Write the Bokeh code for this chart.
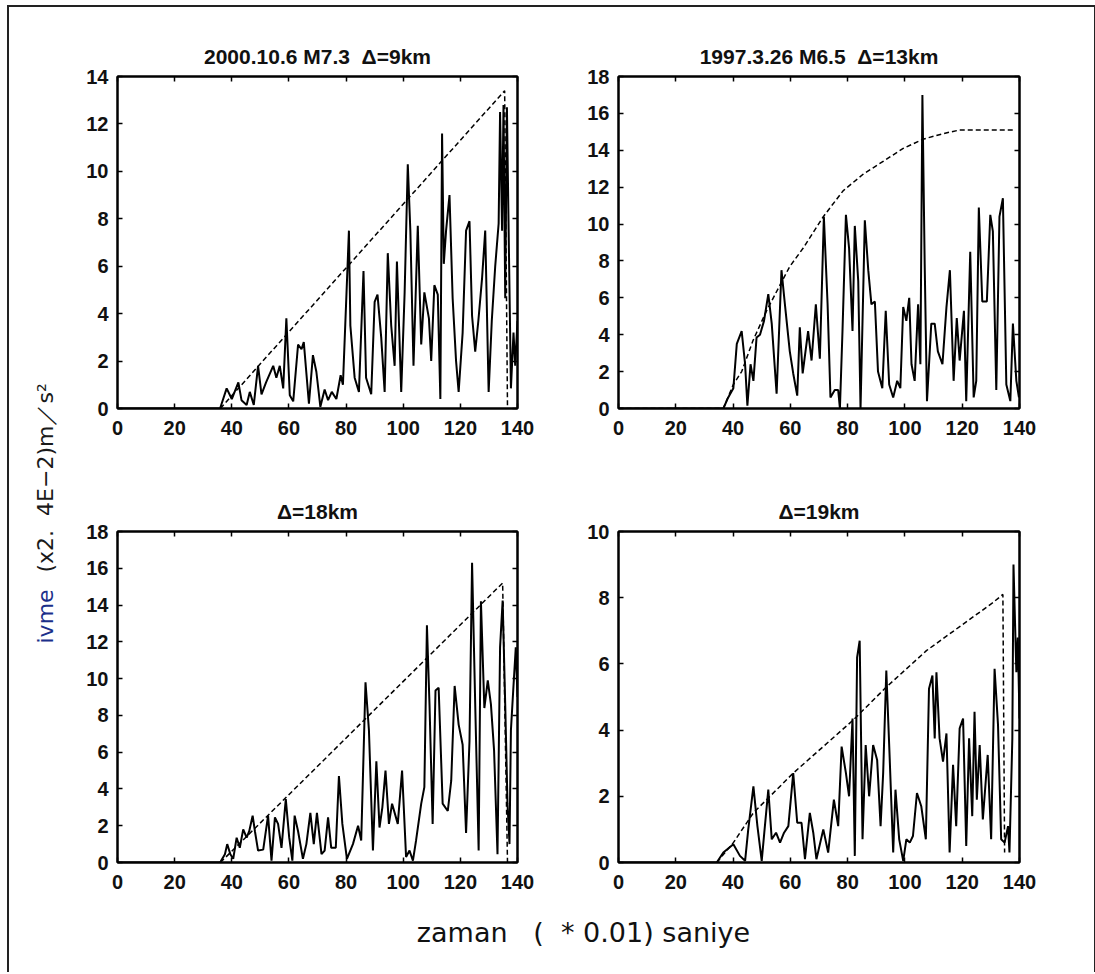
from bokeh.plotting import figure
from bokeh.models import Range1d, FixedTicker, LinearAxis, Label
from bokeh.layouts import row, column
from bokeh.embed import file_html
from bokeh.resources import INLINE

# ---------------- data ----------------
NB = "\u00a0"
titles = ["2000.10.6 M7.3" + NB + NB + "\u0394=9km", "1997.3.26 M6.5" + NB + NB + "\u0394=13km",
          "\u0394=18km", "\u0394=19km"]
x_ticks = [0, 20, 40, 60, 80, 100, 120, 140]
y_max = [14, 18, 18, 10]

tl_x = [0, 35.9, 38.2, 40, 42.3, 43.4, 45.2, 46.3, 47.7, 49.2,
        50.4, 52, 54.5, 55.6, 56.8, 58, 59.1, 60.3, 61.5, 63.2,
        64.4, 65.2, 67, 68.4, 69.6, 71, 72.5, 73.7, 75, 76.6,
        78.1, 78.9, 81, 81.5, 83, 84.5, 86.1, 87, 88.8, 90,
        91, 92.3, 93.5, 94.6, 95.8, 97, 97.8, 99.3, 100.5, 101.6,
        102.5, 103.6, 105.1, 106.3, 107.4, 109, 109.8, 110.9, 112.1, 113,
        113.6, 114.2, 115, 116.2, 117.3, 118.5, 119.4, 120.8, 122, 123.2,
        124.1, 125.2, 126.3, 127.6, 128.7, 129.9, 131, 132.2, 133.4, 133.9,
        134.6, 135.1, 135.7, 136.3, 136.9, 137.7, 138.6, 139.2, 140]
tl_y = [0, 0, 0.85, 0.4, 1.1, 0.35, 0.15, 0.7, 0.15, 1.8,
        0.6, 1.1, 1.8, 1.3, 1.8, 0.85, 3.8, 0.56, 0.3, 2.7,
        2.5, 2.8, 0.2, 2.25, 1.55, 0.07, 0.8, 0.35, 0.7, 0.4,
        1.4, 1.0, 7.5, 3.5, 1.3, 0.7, 5.8, 1.3, 0.6, 4.5,
        4.8, 3.0, 0.7, 6.55, 3.5, 1.8, 6.2, 0.7, 4.9, 10.3,
        7.5, 1.8, 7.7, 2.7, 4.9, 3.8, 2.0, 5.2, 4.8, 0.4,
        11.6, 6.1, 7.5, 9.0, 4.65, 2.0, 0.7, 3.2, 7.5, 7.9,
        3.9, 2.4, 3.7, 5.5, 7.5, 0.7, 3.7, 6.0, 7.8, 12.5,
        7.5, 12.8, 4.65, 12.7, 7.5, 0.85, 3.2, 1.8, 3.7]
tl_env_x = [36, 135.5, 136.5]
tl_env_y = [0, 13.4, 0]

tr_x = [0, 36.6, 38.3, 40.1, 41.3, 43, 44.2, 45, 46.1, 47.1,
        48.2, 49.4, 50.8, 52.3, 53.5, 55.2, 56.9, 58.1, 59.8, 61,
        62.4, 63.3, 64.3, 66.2, 67.4, 68.9, 70.3, 71.7, 73, 74,
        75.5, 76.7, 77.3, 78.2, 79.4, 80.5, 81.7, 82.5, 83.7, 84.5,
        86, 87.2, 88.3, 89.5, 90.6, 92.1, 93.3, 94.5, 95.9, 97.3,
        98.4, 99.4, 100.5, 101.5, 102.3, 103.4, 104.6, 105.4, 106.1, 106.9,
        107.7, 109.2, 110.4, 111.5, 113.1, 114.5, 115.7, 117, 118.1, 119.1,
        120.6, 121.4, 122.8, 124, 124.9, 125.8, 127, 128.6, 129.8, 130.7,
        131.9, 133, 134.2, 135.4, 136.8, 137.7, 138.9, 139.8]
tr_y = [0, 0, 0.6, 1.1, 3.5, 4.2, 2.4, 0.15, 2.4, 1.5,
        3.85, 4.0, 4.75, 6.2, 4.6, 0.8, 7.5, 5.65, 3.1, 1.9,
        0.7, 4.4, 1.9, 4.2, 2.6, 5.65, 2.7, 10.4, 5.65, 0.6,
        1.0, 1.0, 0, 4.2, 10.5, 8.7, 4.2, 9.9, 6.9, 0,
        10.2, 7.5, 5.65, 5.8, 2.0, 1.1, 5.3, 1.3, 0.6, 1.5,
        1.1, 5.5, 4.75, 6.0, 2.4, 1.5, 5.65, 2.4, 17.0, 7.8,
        0.4, 4.6, 4.6, 3.1, 2.4, 5.5, 7.5, 1.5, 4.9, 2.6,
        5.3, 0.4, 8.5, 0.6, 1.5, 10.9, 5.8, 5.8, 10.5, 9.6,
        1.0, 10.4, 11.4, 1.3, 0.4, 4.6, 1.5, 0.6]
tr_env_x = [0, 36.6, 40.1, 43, 47, 51.7, 56.4, 59.8, 64.5, 71.5,
            78.4, 85.4, 92.4, 99.4, 106.3, 113.3, 119.1, 126.1, 138.3]
tr_env_y = [0, 0, 1.3, 2.0, 3.7, 5.3, 6.7, 7.7, 8.7, 10.4,
            11.8, 12.7, 13.4, 14.1, 14.6, 14.9, 15.1, 15.1, 15.1]

bl_x = [0, 35.9, 37.6, 38.4, 39.5, 40.5, 41.7, 42.8, 44, 45.2,
        46.1, 47.3, 48.1, 49.2, 51, 52.7, 53.9, 55.1, 56.2, 57.4,
        58.9, 60.1, 61.2, 62, 63.2, 64.9, 66.1, 67.5, 68.7, 69.8,
        71.4, 72.5, 73.7, 74.8, 76.4, 77.5, 78.7, 80.3, 82.4, 84.2,
        85.3, 86.8, 88, 89.4, 90.6, 91.7, 92.7, 93.8, 95, 96.1,
        98.1, 99.6, 101, 102.2, 103.4, 104.5, 106.3, 107.4, 108.3, 109.2,
        110.3, 111.3, 112.4, 113.8, 115.6, 116.8, 118, 119.4, 120.8, 122,
        123.2, 124.1, 125.2, 126.4, 127.2, 128.4, 129.6, 130.7, 131.8, 133,
        133.9, 134.8, 135.7, 136.5, 137.2, 137.7, 138.5, 139.4, 140]
bl_y = [0, 0, 0.45, 1.0, 0.45, 0.2, 1.35, 0.8, 1.8, 1.35,
        1.7, 2.55, 1.7, 0.65, 0.7, 2.55, 0.1, 2.45, 2.1, 0.8,
        3.45, 1.35, 0.1, 2.55, 1.7, 0.2, 1.0, 2.7, 1.0, 2.7,
        0.45, 0.65, 2.45, 0.8, 0.8, 4.7, 2.1, 0.2, 1.0, 2.0,
        1.2, 9.8, 7.2, 0.65, 5.5, 1.9, 3.0, 5.0, 2.1, 3.2,
        2.1, 5.0, 0.3, 0.65, 0.1, 1.2, 3.2, 4.1, 12.9, 8.6,
        2.1, 9.35, 9.5, 3.2, 2.8, 4.45, 9.6, 7.5, 6.4, 1.6,
        6.6, 16.3, 8.6, 0.65, 14.2, 8.4, 9.9, 8.6, 6.1, 0.45,
        11.7, 14.25, 8.6, 3.2, 1.0, 7.2, 9.35, 11.7, 9.0]
bl_env_x = [36, 134.8, 136.5]
bl_env_y = [0, 15.2, 0]

br_x = [0, 34.3, 36.6, 40.1, 42.4, 44.2, 45.3, 47.1, 48.5, 50,
        50.9, 52.3, 53.5, 55, 56.4, 57.8, 59.3, 61, 62.4, 63.9,
        65.1, 66.8, 68, 69.1, 71.5, 73.2, 75.2, 76.7, 77.9, 79.4,
        80.5, 81.7, 82.5, 83.3, 84.2, 85.2, 86.3, 87.5, 88.9, 90.3,
        91.5, 92.4, 93.5, 94.7, 95.9, 96.7, 98, 99.4, 100.5, 101.7,
        102.8, 104.2, 105.7, 107.3, 108.4, 109.6, 110.4, 111, 112.1, 113.3,
        114.5, 115.6, 116.8, 117.9, 119.1, 120.3, 121.4, 122.4, 123.5, 124.3,
        125.1, 126.1, 127.2, 128.9, 130.1, 131.3, 132.5, 133.6, 134.8, 136,
        136.5, 137.5, 137.9, 138.9, 139.4, 140]
br_y = [0, 0, 0.3, 0.55, 0.2, 0.05, 1.0, 2.3, 1.1, 0.05,
        0.9, 2.2, 0.7, 0.9, 0.6, 0.9, 1.1, 2.7, 1.2, 1.2,
        0.1, 1.5, 0.9, 0.1, 1.0, 0.3, 1.9, 1.1, 3.5, 2.7,
        2.0, 4.35, 0.2, 6.2, 6.7, 0.7, 3.55, 2.0, 3.55, 3.1,
        1.1, 2.7, 5.8, 3.1, 0.3, 2.2, 0.7, 0.05, 0.7, 0.6,
        0.8, 2.1, 1.7, 0.7, 5.25, 5.65, 3.75, 5.75, 3.75, 3.05,
        3.9, 0.3, 2.95, 1.1, 4.05, 4.35, 0.5, 3.75, 1.4, 4.55,
        1.9, 3.55, 1.3, 3.25, 0.7, 5.85, 4.15, 0.7, 0.6, 1.1,
        0.3, 3.75, 9.0, 5.75, 6.8, 4.35]
br_env_x = [34.3, 40.1, 47.1, 61, 81.9, 93.5, 107.5, 130.7, 134.2, 134.8]
br_env_y = [0, 0.6, 1.5, 2.7, 4.3, 5.3, 6.4, 7.85, 8.1, 0.3]

y_label_blue = "ivme"
y_label_rest = "(x2." + NB + NB + "4E\u22122)m\uff0fs\u00b2"
x_label = "zaman" + NB + NB + NB + "(" + NB + NB + "*" + NB + "0.01)" + NB + "saniye"

TICK_FONT = "Liberation Sans"
LABEL_FONT = "DejaVu Sans"


def blank_axis(ticks):
    return LinearAxis(ticker=FixedTicker(ticks=ticks), major_tick_in=5,
                      major_tick_out=0, minor_tick_line_color=None,
                      major_label_text_font_size="0px",
                      major_label_text_color=None, major_label_standoff=0,
                      axis_line_color="black", axis_line_width=2,
                      major_tick_line_width=1.5)


def panel(title, xs, ys, exs, eys, ymax, fw, fh, mbl, mbr, mbt, mbb):
    p = figure(frame_width=fw, frame_height=fh,
               x_range=Range1d(0, 140), y_range=Range1d(0, ymax),
               output_backend="svg", toolbar_location=None,
               min_border_left=mbl, min_border_right=mbr,
               min_border_top=mbt, min_border_bottom=mbb,
               title=title)
    p.title.text_font = TICK_FONT
    p.title.text_font_size = "21px"
    p.title.text_font_style = "bold"
    p.title.align = "center"
    p.title.text_color = "#111111"
    p.title.standoff = 17
    p.grid.visible = False
    p.outline_line_color = "black"
    p.outline_line_width = 2
    p.background_fill_color = "white"
    p.border_fill_color = "white"
    yt = list(range(0, ymax + 1, 2))
    p.xaxis.ticker = FixedTicker(ticks=x_ticks)
    p.yaxis.ticker = FixedTicker(ticks=yt)
    for ax in p.xaxis + p.yaxis:
        ax.major_tick_in = 5
        ax.major_tick_out = 0
        ax.minor_tick_line_color = None
        ax.axis_line_color = "black"
        ax.axis_line_width = 2
        ax.major_tick_line_width = 1.5
        ax.major_label_text_font = TICK_FONT
        ax.major_label_text_font_size = "20px"
        ax.major_label_text_font_style = "bold"
        ax.major_label_text_color = "#111111"
    p.xaxis.major_label_standoff = 12
    p.yaxis.major_label_standoff = 9
    p.add_layout(blank_axis(x_ticks), "above")
    p.add_layout(blank_axis(yt), "right")
    p.line(xs, ys, line_color="black", line_width=2)
    p.line(exs, eys, line_color="black", line_width=1.5, line_dash="5 3")
    return p


tl = panel(titles[0], tl_x, tl_y, tl_env_x, tl_env_y, y_max[0], 400, 332, 50, 51, 69, 54)
tr = panel(titles[1], tr_x, tr_y, tr_env_x, tr_env_y, y_max[1], 401, 332, 50, 75, 69, 54)
bl = panel(titles[2], bl_x, bl_y, bl_env_x, bl_env_y, y_max[2], 400, 331, 50, 51, 69, 44)
br = panel(titles[3], br_x, br_y, br_env_x, br_env_y, y_max[3], 401, 331, 50, 75, 69, 44)

H = 965
ylab = figure(width=58, height=H, x_range=Range1d(0, 58), y_range=Range1d(0, H),
              x_axis_type=None, y_axis_type=None, output_backend="svg",
              toolbar_location=None, min_border=0)
ylab.grid.visible = False
ylab.outline_line_color = None
ylab.add_layout(Label(x=36, y=329, text=y_label_blue, angle=1.5707963,
                      text_align="left", text_baseline="middle",
                      text_font=LABEL_FONT, text_font_size="22px",
                      text_color="#1b2f8a"))
ylab.add_layout(Label(x=36, y=400, text=y_label_rest, angle=1.5707963,
                      text_align="left", text_baseline="middle",
                      text_font=LABEL_FONT, text_font_size="22px",
                      text_color="#1a1a1a"))

xlab = figure(width=1027, height=66, x_range=Range1d(0, 1027), y_range=Range1d(0, 66),
              x_axis_type=None, y_axis_type=None, output_backend="svg",
              toolbar_location=None, min_border=0)
xlab.grid.visible = False
xlab.outline_line_color = None
xlab.add_layout(Label(x=516, y=40, text=x_label, text_align="center",
                      text_baseline="middle", text_font=LABEL_FONT,
                      text_font_size="27px", text_color="#111111"))

grid = column(row(tl, tr), row(bl, br), xlab)
root = row(ylab, grid, margin=(5, 0, 0, 7),
           styles={"border-left": "2px solid #222", "border-top": "2px solid #222",
                   "border-right": "2px solid #222", "background": "white"})

open("out.html", "w").write(file_html(root, INLINE))
